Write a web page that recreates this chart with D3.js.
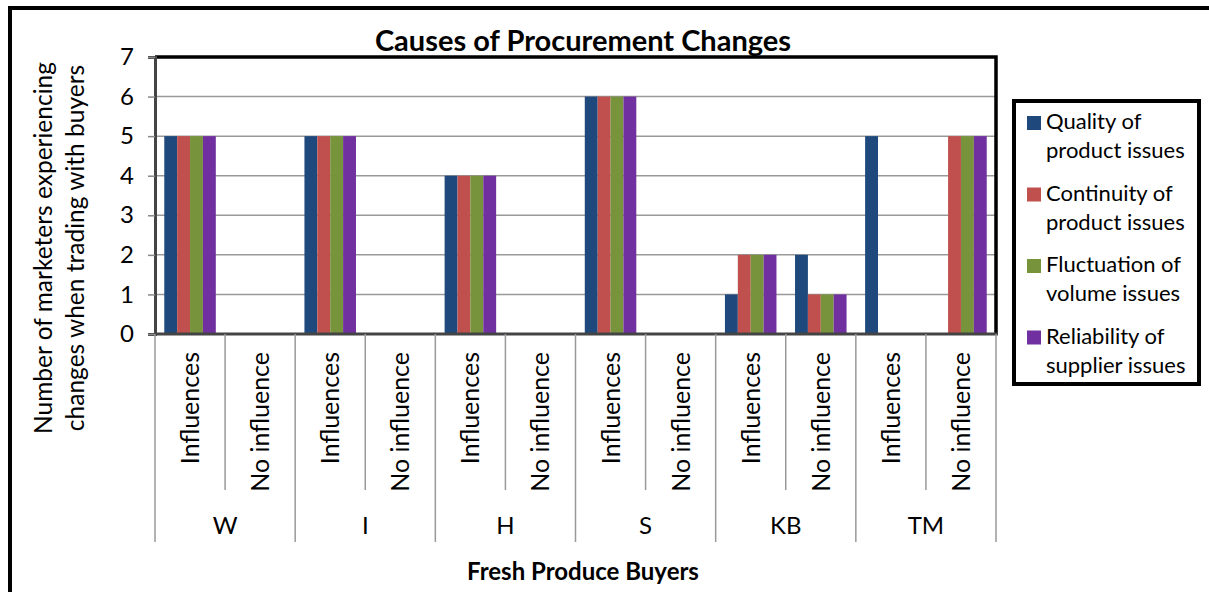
<!DOCTYPE html>
<html>
<head>
<meta charset="utf-8">
<script src="https://cdn.jsdelivr.net/npm/d3@7"></script>
<style>
  body { margin: 0; background: #fff; }
  text { font-family: Lato, "Open Sans", sans-serif; fill: #000; }
</style>
</head>
<body>
<svg id="chart" width="1209" height="592"></svg>
<script>
// chart data
const buyers = ['W', 'I', 'H', 'S', 'KB', 'TM'];
const influence = ['Influences', 'No influence'];
const seriesNames = ['Quality of product issues', 'Continuity of product issues',
  'Fluctuation of volume issues', 'Reliability of supplier issues'];
const legendLines = [['Quality of', 'product issues'], ['Continuity of', 'product issues'],
  ['Fluctuation of', 'volume issues'], ['Reliability of', 'supplier issues']];
// one array per series, 12 values: W-Inf, W-No, I-Inf, I-No, ...
const quality     = [5, 0, 5, 0, 4, 0, 6, 0, 1, 2, 5, 0];
const continuity  = [5, 0, 5, 0, 4, 0, 6, 0, 2, 1, 0, 5];
const fluctuation = [5, 0, 5, 0, 4, 0, 6, 0, 2, 1, 0, 5];
const reliability = [5, 0, 5, 0, 4, 0, 6, 0, 2, 1, 0, 5];
const yTicks = [0, 1, 2, 3, 4, 5, 6, 7];
const colors = ['#1f497d', '#c0504d', '#77933c', '#7030a0'];

const series = [quality, continuity, fluctuation, reliability];
const cats = [];
buyers.forEach(b => influence.forEach(k => cats.push(b + '|' + k)));

const svg = d3.select('#chart');
const plotL = 155, plotR = 996, plotT = 57, plotB = 334;

// outer frame
svg.append('rect').attr('x', 10).attr('y', 8).attr('width', 1220).attr('height', 620)
  .attr('fill', 'none').attr('stroke', '#000').attr('stroke-width', 4);

const x = d3.scaleBand().domain(cats).range([plotL, plotR]);
const xs = d3.scaleBand().domain(d3.range(4)).range([0, x.bandwidth()]).paddingOuter(0.72);
const y = d3.scaleLinear().domain([0, 7]).range([plotB, plotT]);

// gridlines
svg.append('g').selectAll('line').data(yTicks.slice(1)).join('line')
  .attr('x1', plotL).attr('x2', plotR).attr('y1', d => y(d)).attr('y2', d => y(d))
  .attr('stroke', '#999').attr('stroke-width', 1.5);

// bars
series.forEach((vals, s) => {
  svg.append('g').selectAll('rect').data(vals).join('rect')
    .attr('x', (d, i) => x(cats[i]) + xs(s))
    .attr('width', xs.bandwidth())
    .attr('y', d => y(d))
    .attr('height', d => plotB - y(d))
    .attr('fill', colors[s]);
});

// plot border: top and right thick
svg.append('path').attr('d', `M${plotL},${plotT}H${plotR}V${plotB}`)
  .attr('fill', 'none').attr('stroke', '#000').attr('stroke-width', 3.5);

// y axis
const yAxis = svg.append('g').attr('transform', `translate(${plotL},0)`)
  .call(d3.axisLeft(y).tickValues(yTicks).tickFormat(d3.format('d')).tickSize(7).tickPadding(14));
yAxis.select('.domain').attr('stroke', '#444').attr('stroke-width', 3);
yAxis.selectAll('.tick line').attr('stroke', '#888').attr('stroke-width', 1.5);
yAxis.selectAll('.tick text').attr('font-size', 24).attr('font-family', 'Lato, sans-serif');

// x axis baseline
svg.append('line').attr('x1', plotL).attr('x2', plotR + 2).attr('y1', plotB).attr('y2', plotB)
  .attr('stroke', '#444').attr('stroke-width', 3);

// category separator lines
const edges = d3.range(cats.length + 1).map(i => plotL + i * x.bandwidth());
svg.append('g').selectAll('line').data(edges).join('line')
  .attr('x1', d => d).attr('x2', d => d).attr('y1', plotB)
  .attr('y2', (d, i) => i % 2 === 0 ? 542 : 490)
  .attr('stroke', '#999').attr('stroke-width', 1.5);

// sub labels rotated
svg.append('g').selectAll('text').data(cats).join('text')
  .attr('transform', d => `translate(${x(d) + x.bandwidth() / 2 + 9},352) rotate(-90)`)
  .attr('text-anchor', 'end').attr('font-size', 25)
  .text(d => d.split('|')[1]);

// buyer labels
const xg = d3.scaleBand().domain(buyers).range([plotL, plotR]);
svg.append('g').selectAll('text').data(buyers).join('text')
  .attr('x', d => xg(d) + xg.bandwidth() / 2).attr('y', 534)
  .attr('text-anchor', 'middle').attr('font-size', 24).text(d => d);

// titles
svg.append('text').attr('x', 583).attr('y', 51).attr('text-anchor', 'middle')
  .attr('font-size', 29).attr('font-weight', 'bold').text('Causes of Procurement Changes');
svg.append('text').attr('x', 583).attr('y', 580).attr('text-anchor', 'middle')
  .attr('font-size', 24).attr('font-weight', 'bold').text('Fresh Produce Buyers');
svg.append('text').attr('transform', 'translate(52,248) rotate(-90)').attr('text-anchor', 'middle')
  .attr('font-size', 24.5).text('Number of marketers experiencing');
svg.append('text').attr('transform', 'translate(84,248) rotate(-90)').attr('text-anchor', 'middle')
  .attr('font-size', 24.5).text('changes when trading with buyers');

// legend
const lg = svg.append('g');
lg.append('rect').attr('x', 1014).attr('y', 101).attr('width', 185).attr('height', 283)
  .attr('fill', '#fff').attr('stroke', '#000').attr('stroke-width', 4);
const item = lg.selectAll('g').data(seriesNames).join('g')
  .attr('transform', (d, i) => `translate(1027,${129 + i * 71.5})`);
item.append('rect').attr('x', 0).attr('y', -13).attr('width', 14).attr('height', 14)
  .attr('fill', (d, i) => colors[i]);
item.append('text').attr('x', 19).attr('y', 0).attr('font-size', 22).text((d, i) => legendLines[i][0]);
item.append('text').attr('x', 19).attr('y', 29).attr('font-size', 22).text((d, i) => legendLines[i][1]);
</script>
</body>
</html>
